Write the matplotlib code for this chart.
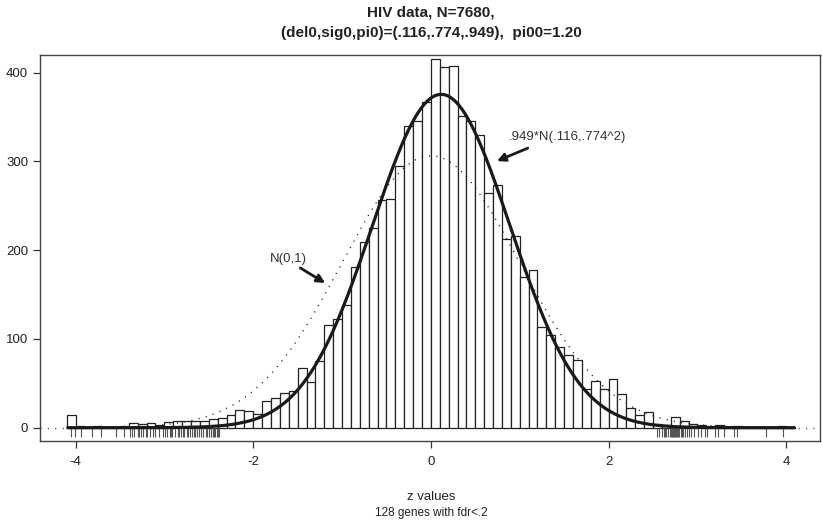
import numpy as np
import matplotlib
matplotlib.use("Agg")
import matplotlib.pyplot as plt

plt.rcParams['font.family'] = ['Liberation Sans', 'DejaVu Sans']

# ---- data ----
N = 7680
bin_start = -4.1
bin_width = 0.1
counts = [14, 2, 1, 2, 1, 1, 2, 5, 4, 5, 3, 6, 7, 8, 8, 8, 10, 11, 14, 20, 19,
          15, 30, 33, 39, 41, 67, 51, 75, 116, 123, 138,
          181, 209, 225, 257, 258, 295, 340, 346, 367,
          415, 407, 408, 351, 346, 330, 264, 273, 213, 216,
          170, 178, 113, 104, 91, 82, 76, 44, 53, 44,
          55, 38, 22, 14, 18, 4, 3, 12, 7, 4, 3, 1, 3, 1, 2, 1, 1, 1, 1, 2, 1]
del0, sig0, pi0 = 0.116, 0.774, 0.949

rug_left = [-4.05, -4.01, -3.94, -3.82, -3.71, -3.55, -3.46, -3.39, -3.37, -3.34,
            -3.30, -3.28, -3.26, -3.24, -3.21, -3.19, -3.16, -3.13, -3.10, -3.06,
            -3.01, -2.99, -2.97, -2.94, -2.92, -2.91, -2.88, -2.85, -2.83, -2.81,
            -2.79, -2.78, -2.75, -2.73, -2.71, -2.69, -2.67, -2.66, -2.63, -2.61,
            -2.59, -2.57, -2.56, -2.53, -2.52, -2.50, -2.48, -2.47, -2.45, -2.44,
            -2.43, -2.41, -2.40, -2.39]
rug_right = [2.55, 2.57, 2.60, 2.62, 2.63, 2.65, 2.67, 2.69, 2.70, 2.71, 2.72,
             2.73, 2.74, 2.75, 2.76, 2.77, 2.78, 2.79, 2.81, 2.83, 2.84, 2.86,
             2.88, 2.90, 2.93, 2.96, 3.01, 3.04, 3.08, 3.11, 3.20, 3.23, 3.30,
             3.41, 3.45, 3.77, 3.96]

xticks = [-4, -2, 0, 2, 4]
yticks = [0, 100, 200, 300, 400]

title = "HIV data, N=7680,\n(del0,sig0,pi0)=(.116,.774,.949),  pi00=1.20"
xlabel1 = "z values"
xlabel2 = "128 genes with fdr<.2"
ann_fit = ".949*N(.116,.774^2)"
ann_theo = "N(0,1)"

# ---- figure ----
fig = plt.figure(figsize=(8.22, 5.22), dpi=100)
ax = fig.add_axes([40/822, 1-441/522, 780/822, (441-55)/522])

nb = len(counts)
lefts = bin_start + bin_width*np.arange(nb)
ax.bar(lefts, counts, width=bin_width, align='edge', facecolor='white',
       edgecolor='#222222', linewidth=0.9, zorder=2)

xx = np.linspace(bin_start, bin_start + bin_width*nb, 600)
theo = N*bin_width*np.exp(-xx**2/2)/np.sqrt(2*np.pi)
fit = N*bin_width*pi0*np.exp(-(xx-del0)**2/(2*sig0**2))/(sig0*np.sqrt(2*np.pi))
ax.plot(xx, theo, color='#222222', linestyle=(0, (0.8, 4.5)), linewidth=1.0, zorder=3)
ax.plot(xx, fit, color='#1a1a1a', linewidth=2.3, zorder=4, solid_capstyle='butt')
ax.axhline(0, color='#444444', linestyle=(0, (0.8, 4.5)), linewidth=1.0, zorder=1)

ax.vlines(rug_left + rug_right, -11, 0, color='#555555', linewidth=0.8, zorder=3)

ax.annotate('', xy=(0.743, 300.5), xytext=(1.09, 315),
            arrowprops=dict(arrowstyle='-|>', color='#1a1a1a', lw=2.0,
                            mutation_scale=12, shrinkA=0, shrinkB=0))
ax.text(0.878, 327.5, ann_fit, fontsize=9.5, ha='left', va='center', color='#333333')
ax.annotate('', xy=(-1.19, 163), xytext=(-1.47, 180),
            arrowprops=dict(arrowstyle='-|>', color='#1a1a1a', lw=2.0,
                            mutation_scale=12, shrinkA=0, shrinkB=0))
ax.text(-1.81, 190, ann_theo, fontsize=9.5, ha='left', va='center', color='#333333')

ax.set_xlim(-4.40, 4.38)
ax.set_ylim(-15, 420)
ax.set_xticks(xticks)
ax.set_xticklabels([str(t) for t in xticks])
ax.set_yticks(yticks)
ax.set_yticklabels([str(t) for t in yticks])
ax.tick_params(direction='out', length=5, width=0.9, colors='#333333',
               labelsize=9.5, labelcolor='#222222')
ax.tick_params(axis='x', pad=6)
for s in ax.spines.values():
    s.set_color('#444444')
    s.set_linewidth(1.0)

fig.text(431/822, 1-23/522, title, ha='center', va='center', fontsize=11,
         fontweight='bold', linespacing=1.55, color='#222222')
fig.text(431/822, 1-497/522, xlabel1, ha='center', va='center', fontsize=9.5, color='#222222')
fig.text(431/822, 1-513/522, xlabel2, ha='center', va='center', fontsize=8.5, color='#222222')

fig.savefig('out.png', dpi=100)
